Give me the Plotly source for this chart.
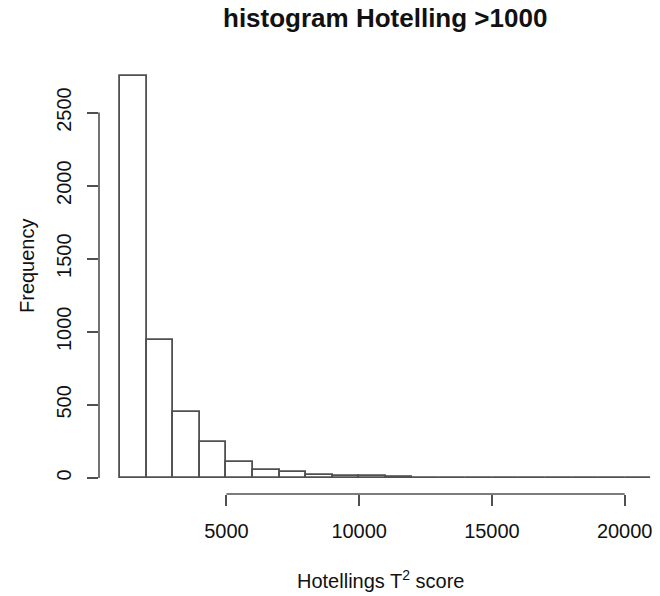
import plotly.graph_objects as go

# Histogram bins (width 1000) and their counts
bin_start = 1000
bin_width = 1000
counts = [2750, 945, 448, 243, 107, 57, 41, 22, 12, 10, 9, 2, 2, 1, 2, 1, 1, 1, 1, 1]
bin_left = [bin_start + i * bin_width for i in range(len(counts))]
bin_centers = [b + bin_width / 2 for b in bin_left]

x_ticks = [5000, 10000, 15000, 20000]
y_ticks = [0, 500, 1000, 1500, 2000, 2500]

font_family = "Liberation Sans, Arial, Helvetica, sans-serif"
ink = "#111111"
edge = "#505050"

fig = go.Figure()
fig.add_trace(go.Bar(
    x=bin_centers,
    y=counts,
    width=[bin_width] * len(counts),
    marker=dict(color="white", line=dict(color=edge, width=1.8)),
    showlegend=False,
    hoverinfo="x+y",
))

# R-style axis lines that only span the first to last tick
fig.add_shape(type="line", xref="paper", yref="y", x0=0, x1=0,
              y0=y_ticks[0], y1=y_ticks[-1], line=dict(color=edge, width=1.6))
fig.add_shape(type="line", xref="x", yref="paper", x0=x_ticks[0], x1=x_ticks[-1],
              y0=0, y1=0, line=dict(color=edge, width=1.6))

fig.update_layout(
    width=660, height=596,
    margin=dict(l=99, r=0, t=60, b=102, autoexpand=False),
    paper_bgcolor="white", plot_bgcolor="white",
    font=dict(family=font_family, color=ink, size=20),
    bargap=0,
    xaxis=dict(
        range=[200, 21330], automargin=False,
        tickvals=x_ticks, ticktext=[str(v) for v in x_ticks],
        ticks="outside", ticklen=11, tickwidth=1.6, tickcolor=edge,
        showline=False, showgrid=False, zeroline=False,
        tickfont=dict(size=20, color=ink), ticklabelstandoff=8,
    ),
    yaxis=dict(
        range=[-110, 2860], automargin=False,
        tickvals=y_ticks, ticktext=[str(v) for v in y_ticks],
        tickangle=-90,
        ticks="outside", ticklen=11, tickwidth=1.6, tickcolor=edge,
        showline=False, showgrid=False, zeroline=False,
        tickfont=dict(size=20, color=ink), ticklabelstandoff=8,
    ),
    annotations=[
        dict(text="<b>histogram Hotelling >1000</b>", xref="paper", yref="paper",
             x=0.51, y=1 + 42 / 434, xanchor="center", yanchor="middle",
             showarrow=False, font=dict(size=26, color=ink)),
        dict(text="Frequency", xref="paper", yref="paper",
             x=(27 - 99) / 561, y=(494 - 265) / 434, textangle=-90,
             xanchor="center", yanchor="middle", showarrow=False,
             font=dict(size=20, color=ink)),
        dict(text="Hotellings T<sup>2</sup> score", xref="paper", yref="paper",
             x=(381 - 99) / 561, y=(494 - 579) / 434,
             xanchor="center", yanchor="middle", showarrow=False,
             font=dict(size=20, color=ink)),
    ],
)

fig.write_html("out.html")
